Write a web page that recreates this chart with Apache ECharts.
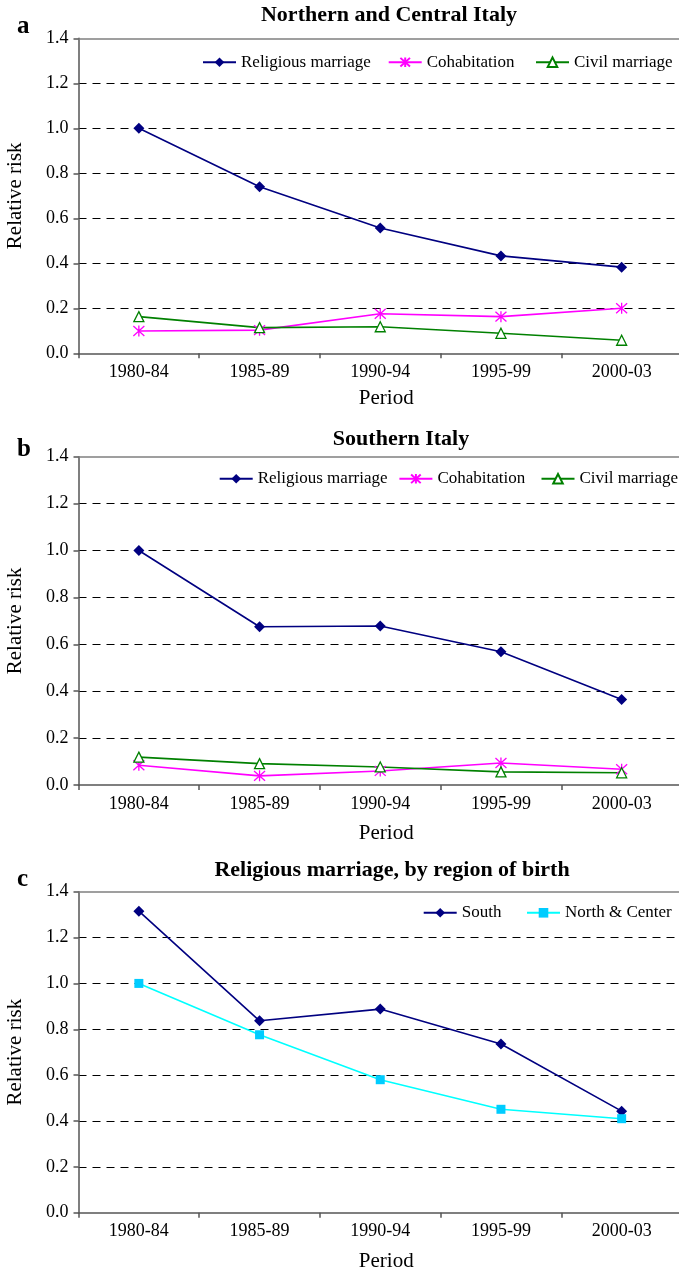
<!DOCTYPE html>
<html><head><meta charset="utf-8">
<script src="https://cdn.jsdelivr.net/npm/echarts@6/dist/echarts.min.js"></script>
<style>html,body{margin:0;padding:0;background:#fff;overflow:hidden}#c{width:679px;height:1271px}</style>
</head><body><div id="c"></div>
<script>
// ---- data ----
const periods = ['1980-84', '1985-89', '1990-94', '1995-99', '2000-03'];
const northReligious = [1.000, 0.740, 0.557, 0.433, 0.383];
const northCohabitation = [0.099, 0.103, 0.176, 0.163, 0.200];
const northCivil = [0.163, 0.114, 0.118, 0.089, 0.058];
const southReligious = [1.000, 0.675, 0.678, 0.568, 0.365];
const southCohabitation = [0.084, 0.039, 0.060, 0.094, 0.067];
const southCivil = [0.119, 0.091, 0.077, 0.056, 0.052];
const birthSouth = [1.315, 0.837, 0.888, 0.736, 0.443];
const birthNorthCenter = [1.000, 0.776, 0.580, 0.451, 0.410];
const panelTitles = ['Northern and Central Italy', 'Southern Italy', 'Religious marriage, by region of birth'];
const panelLetters = ['a', 'b', 'c'];
const xAxisName = 'Period';
const yAxisName = 'Relative risk';

// ---- style ----
const FONT = "'Liberation Serif','Times New Roman',serif";
const NAVY = '#000080', MAGENTA = '#FF00FF', GREEN = '#008000', CYAN_LINE = '#00FFFF', CYAN_MARK = '#00CCFF';
const STAR = 'path://M5,0L5,10M0.5,0.5L9.5,9.5M0.5,9.5L9.5,0.5';

const grids = [
  {left: 78.5, width: 603.5, top: 38.3, height: 315},
  {left: 78.5, width: 603.5, top: 456.7, height: 328.3},
  {left: 78.5, width: 603.5, top: 891.7, height: 321}
];
const nameGaps = [35, 38, 38];

const chart = echarts.init(document.getElementById('c'), null, {renderer: 'canvas'});

function xAx(i) {
  return {
    gridIndex: i, type: 'category', data: periods, boundaryGap: true,
    axisLine: {lineStyle: {color: '#555', width: 1.5}},
    axisTick: {show: true, length: 5, lineStyle: {color: '#555', width: 1.5}},
    axisLabel: {fontFamily: FONT, fontSize: 18, color: '#000', margin: 10},
    splitLine: {show: false},
    name: xAxisName, nameLocation: 'middle', nameGap: nameGaps[i],
    nameTextStyle: {fontFamily: FONT, fontSize: 21, color: '#000', padding: [0, 0, 0, 12]}
  };
}
// plain top border of each plot area
function xTop(i) {
  return {
    gridIndex: i, type: 'category', data: periods, position: 'top',
    axisLine: {show: true, lineStyle: {color: '#808080', width: 1.5}},
    axisTick: {show: false}, axisLabel: {show: false}, splitLine: {show: false}
  };
}
function yAx(i) {
  return {
    gridIndex: i, type: 'value', min: 0, max: 1.4, interval: 0.2,
    axisLine: {show: true, lineStyle: {color: '#555', width: 1.5}},
    axisTick: {show: true, length: 5, lineStyle: {color: '#555', width: 1.5}},
    axisLabel: {fontFamily: FONT, fontSize: 18, color: '#000', margin: 10,
      formatter: v => v.toFixed(1)},
    splitLine: {show: true, showMinLine: false, showMaxLine: false,
      lineStyle: {color: '#000', width: 1, type: [8, 6]}},
    name: yAxisName, nameLocation: 'middle', nameGap: 53, nameRotate: 90,
    nameTextStyle: {fontFamily: FONT, fontSize: 21, color: '#000'}
  };
}

function lineSeries(name, data, gi, opts) {
  return Object.assign({
    name: name, type: 'line', data: data, xAxisIndex: gi, yAxisIndex: gi,
    symbolSize: 10, animation: false, z: 3
  }, opts);
}
const religiousStyle = {symbol: 'diamond', symbolSize: 11, lineStyle: {color: NAVY, width: 1.6}, itemStyle: {color: NAVY}};
const cohabStyle = {symbol: STAR, symbolSize: 11, lineStyle: {color: MAGENTA, width: 1.6}, itemStyle: {color: MAGENTA, borderColor: MAGENTA, borderWidth: 1.3}};
const civilStyle = {symbol: 'triangle', symbolSize: 10, lineStyle: {color: GREEN, width: 1.6}, itemStyle: {color: '#fff', borderColor: GREEN, borderWidth: 1.3}};
const ncStyle = {symbol: 'rect', symbolSize: 9, lineStyle: {color: CYAN_LINE, width: 1.6}, itemStyle: {color: CYAN_MARK}};

const series = [
  lineSeries('Religious marriage', northReligious, 0, religiousStyle),
  lineSeries('Cohabitation', northCohabitation, 0, cohabStyle),
  lineSeries('Civil marriage', northCivil, 0, civilStyle),
  lineSeries('Religious marriage', southReligious, 1, religiousStyle),
  lineSeries('Cohabitation', southCohabitation, 1, cohabStyle),
  lineSeries('Civil marriage', southCivil, 1, civilStyle),
  lineSeries('South', birthSouth, 2, religiousStyle),
  lineSeries('North & Center', birthNorthCenter, 2, ncStyle)
];

function leg(name, x, yc) {
  return {
    data: [name], left: x, top: yc - 9, padding: 0, itemWidth: 33, itemHeight: 12,
    selectedMode: false, textStyle: {fontFamily: FONT, fontSize: 17, color: '#000'}
  };
}
const legends = [
  leg('Religious marriage', 202, 62.7), leg('Cohabitation', 387.7, 62.7), leg('Civil marriage', 535, 62.7),
  leg('Religious marriage', 218.7, 479.3), leg('Cohabitation', 398.4, 479.3), leg('Civil marriage', 540.5, 479.3),
  leg('South', 422.7, 913.3), leg('North & Center', 526, 913.3)
];

const titleCenters = [[389, 15], [401, 439], [392, 870]];
const letterPos = [[17, 27], [17, 450], [17, 880]];
const graphics = [];
panelTitles.forEach((t, i) => graphics.push({
  type: 'text', x: titleCenters[i][0], y: titleCenters[i][1],
  style: {text: t, fontFamily: FONT, fontSize: 22, fontWeight: 'bold', fill: '#000', align: 'center', verticalAlign: 'middle'}
}));
panelLetters.forEach((t, i) => graphics.push({
  type: 'text', x: letterPos[i][0], y: letterPos[i][1],
  style: {text: t, fontFamily: FONT, fontSize: 25, fontWeight: 'bold', fill: '#000', align: 'left', verticalAlign: 'middle'}
}));

chart.setOption({
  animation: false,
  backgroundColor: '#fff',
  grid: grids.map(g => Object.assign({show: false, containLabel: false, outerBoundsMode: 'none'}, g)),
  xAxis: [0, 1, 2].map(xAx).concat([0, 1, 2].map(xTop)),
  yAxis: [0, 1, 2].map(yAx),
  legend: legends,
  series: series,
  graphic: graphics
});
</script>
</body></html>
